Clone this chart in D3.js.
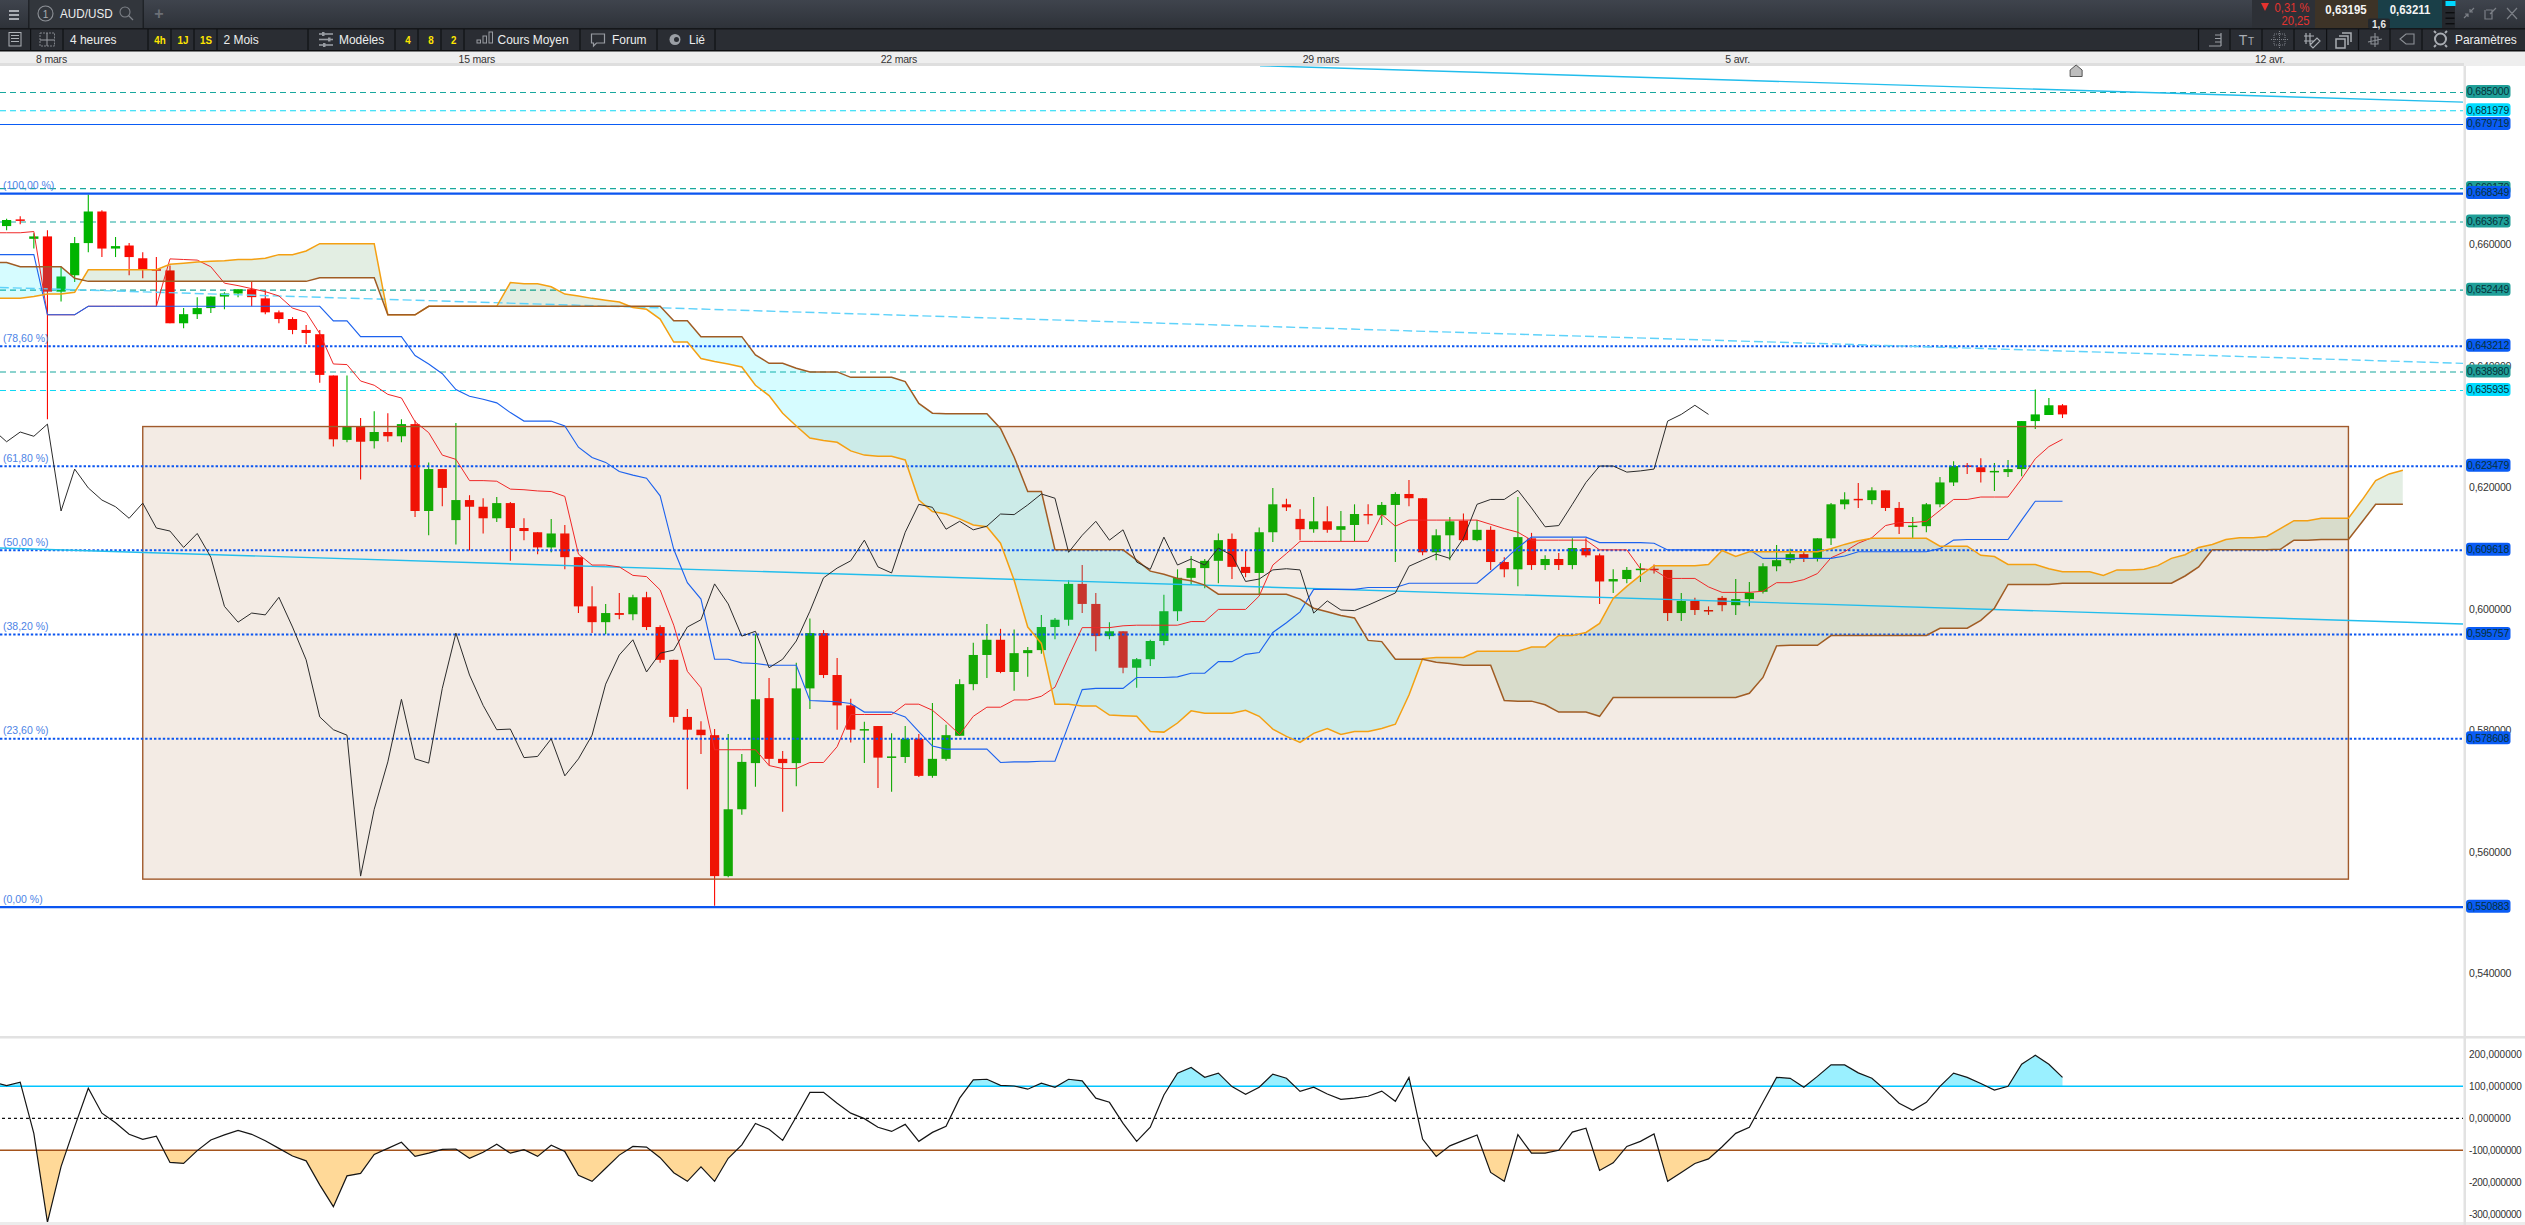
<!DOCTYPE html>
<html>
<head>
<meta charset="utf-8">
<title>AUD/USD</title>
<script src="https://cdn.jsdelivr.net/npm/d3@7"></script>
<style>
html, body { margin: 0; padding: 0; background: #fff; overflow: hidden; }
svg { display: block; }
text { font-family: "Liberation Sans", Arial, sans-serif; }
.tick text { font-family: "Liberation Sans", Arial, sans-serif; }
</style>
</head>
<body>
<svg id="chart" width="2525" height="1225"></svg>
<script>
// prices are in 1/10000 (6640 = 0,6640), one value per 4h candle
var opens = [6630,6641,6609,6613,6522,6549,6602,6654,6593,6598,6577,6559,6557,6470,6485,6495,6514,6519,6526,6511,6488,6477,6459,6452,6384,6278,6300,6276,6291,6284,6304,6161,6230,6146,6179,6168,6149,6174,6133,6126,6101,6124,6085,6004,5978,5993,5991,6019,5970,5916,5822,5801,5792,5560,5670,5746,5853,5753,5746,5869,5960,5891,5841,5801,5807,5756,5756,5786,5725,5753,5791,5876,5924,5949,5896,5927,5932,5970,5982,6041,6008,5955,5963,5903,5917,5947,5996,6051,6067,6079,6115,6069,6059,6126,6172,6148,6131,6144,6130,6138,6156,6154,6171,6189,6182,6093,6121,6145,6113,6130,6077,6065,6116,6072,6082,6072,6100,6088,6045,6049,6065,6066,6064,5993,6013,5998,6018,6006,6016,6028,6070,6080,6090,6083,6116,6172,6181,6179,6195,6166,6136,6136,6172,6208,6236,6233,6226,6225,6230,6309,6319,6335];
var highs = [6642,6646,6618,6623,6563,6612,6682,6656,6612,6602,6587,6579,6565,6495,6513,6514,6521,6526,6538,6524,6491,6480,6467,6459,6384,6384,6314,6325,6322,6312,6310,6241,6230,6306,6187,6182,6184,6176,6149,6126,6148,6138,6085,6037,6008,6026,6023,6028,5973,5916,5835,5815,5802,5794,5761,5958,5886,5766,5911,5984,5965,5919,5852,5814,5807,5795,5807,5794,5845,5809,5884,5944,5975,5967,5966,5937,5990,5985,6047,6072,6026,5978,5963,5919,5949,6023,6065,6087,6082,6124,6124,6095,6134,6199,6181,6164,6184,6169,6161,6172,6172,6176,6192,6212,6182,6131,6151,6157,6146,6136,6085,6184,6125,6088,6092,6116,6116,6091,6065,6069,6075,6073,6064,6026,6018,6004,6021,6049,6044,6075,6105,6099,6094,6116,6174,6192,6207,6200,6195,6176,6151,6174,6217,6243,6240,6248,6240,6245,6309,6361,6347,6337];
var lows = [6623,6633,6593,6312,6506,6538,6587,6579,6579,6549,6544,6498,6470,6462,6477,6487,6493,6513,6498,6485,6470,6452,6436,6372,6267,6274,6213,6264,6275,6274,6151,6121,6169,6106,6096,6124,6143,6079,6113,6090,6093,6065,5993,5960,5958,5983,5981,5965,5911,5813,5703,5761,5511,5558,5661,5707,5742,5666,5708,5835,5886,5801,5780,5746,5705,5699,5746,5723,5722,5750,5791,5866,5886,5894,5865,5888,5926,5950,5972,5993,5930,5950,5894,5870,5906,5940,5980,6039,6034,6042,6049,6052,6024,6110,6161,6113,6125,6125,6111,6111,6139,6138,6077,6169,6088,6080,6080,6111,6111,6064,6052,6037,6064,6064,6064,6065,6085,6008,6026,6042,6044,6058,5980,5980,5990,5990,5996,5990,6004,6025,6062,6075,6077,6078,6105,6164,6166,6172,6161,6123,6116,6126,6167,6202,6222,6208,6194,6217,6218,6296,6319,6314];
var closes = [6640,6640,6613,6522,6547,6602,6654,6593,6597,6579,6559,6558,6470,6485,6495,6514,6519,6526,6513,6488,6477,6459,6454,6385,6279,6300,6275,6291,6284,6304,6161,6230,6199,6179,6168,6149,6174,6133,6128,6101,6124,6085,6004,5978,5993,5990,6019,5970,5916,5822,5801,5792,5560,5670,5748,5851,5753,5746,5869,5960,5891,5841,5801,5802,5755,5757,5786,5725,5753,5792,5876,5924,5949,5896,5927,5932,5970,5982,6041,6008,5955,5963,5903,5917,5947,5996,6051,6067,6079,6113,6069,6059,6126,6172,6167,6131,6144,6130,6136,6156,6155,6171,6189,6182,6093,6121,6144,6113,6130,6077,6065,6118,6072,6082,6072,6100,6088,6045,6049,6064,6066,6064,5993,6013,5998,5997,6006,6016,6026,6070,6080,6090,6083,6116,6172,6180,6180,6195,6166,6135,6137,6172,6208,6235,6235,6225,6227,6230,6309,6320,6335,6320];

// ichimoku lines, first value is the candle just left of the frame (index -1)
var tenkan = [6619,6619,6619,6621,6484,6484,6484,6498,6498,6498,6498,6498,6498,6576,6575,6574,6563,6536,6532,6527,6522,6515,6495,6488,6453,6403,6402,6375,6368,6353,6347,6308,6290,6253,6246,6211,6211,6210,6197,6196,6194,6193,6185,6090,6072,6072,6069,6055,6053,6031,5973,5897,5870,5768,5768,5768,5768,5742,5737,5737,5747,5747,5773,5826,5826,5826,5826,5843,5843,5833,5814,5793,5823,5838,5838,5850,5850,5856,5871,5921,5969,5969,5969,5972,5973,5973,5973,5973,5979,5979,5999,5999,5999,6021,6072,6091,6111,6111,6111,6111,6111,6111,6155,6136,6146,6146,6146,6146,6146,6146,6139,6132,6126,6113,6113,6113,6113,6113,6097,6097,6097,6066,6064,6050,6050,6050,6036,6027,6027,6027,6029,6043,6043,6048,6058,6084,6094,6108,6117,6137,6142,6142,6144,6162,6180,6180,6184,6184,6184,6214,6247,6267,6279];
var kijun = [6583,6583,6583,6583,6484,6484,6484,6498,6498,6498,6498,6498,6498,6498,6498,6498,6498,6498,6498,6498,6498,6498,6498,6498,6498,6474,6474,6448,6448,6448,6448,6417,6403,6387,6361,6350,6345,6339,6323,6309,6309,6309,6301,6266,6249,6241,6226,6220,6215,6186,6098,6043,6016,5917,5917,5911,5910,5907,5907,5907,5849,5848,5847,5844,5830,5830,5830,5822,5798,5774,5769,5769,5769,5769,5747,5748,5748,5749,5749,5809,5867,5869,5869,5869,5887,5887,5887,5888,5894,5894,5913,5913,5925,5928,5961,5977,5995,6032,6032,6032,6032,6035,6035,6035,6042,6042,6042,6042,6042,6042,6061,6080,6101,6118,6118,6118,6118,6118,6109,6109,6109,6109,6108,6097,6097,6097,6097,6097,6097,6097,6083,6083,6083,6083,6083,6083,6087,6094,6094,6094,6094,6094,6094,6099,6113,6114,6114,6114,6114,6146,6177,6177,6177];
var senkouA = [6511,6511,6511,6514,6518,6518,6521,6558,6558,6558,6558,6558,6558,6567,6569,6571,6572,6573,6575,6575,6577,6583,6583,6589,6601,6601,6601,6601,6601,6484,6484,6484,6498,6498,6498,6498,6498,6498,6537,6535,6535,6530,6518,6515,6511,6508,6505,6496,6493,6477,6439,6439,6412,6407,6403,6398,6368,6351,6322,6301,6281,6277,6274,6260,6253,6251,6251,6245,6179,6160,6156,6148,6138,6135,6108,6047,5970,5943,5843,5843,5840,5840,5825,5824,5823,5798,5797,5812,5832,5828,5828,5828,5833,5823,5802,5790,5780,5795,5803,5793,5798,5798,5803,5810,5858,5918,5920,5920,5920,5930,5930,5930,5930,5937,5937,5956,5956,5961,5976,6017,6037,6055,6071,6071,6071,6071,6073,6096,6086,6094,6094,6094,6094,6094,6094,6099,6106,6112,6116,6116,6116,6116,6116,6103,6103,6103,6088,6086,6073,6073,6073,6066,6061,6061,6061,6055,6064,6064,6065,6071,6083,6089,6101,6106,6114,6117,6117,6119,6132,6145,6145,6149,6149,6149,6179,6211,6222,6228];
var senkouB = [6570,6570,6563,6563,6563,6563,6544,6539,6539,6539,6539,6539,6539,6539,6539,6539,6539,6539,6539,6539,6539,6539,6539,6539,6545,6545,6545,6545,6545,6484,6484,6484,6498,6498,6498,6498,6498,6498,6498,6498,6498,6498,6498,6498,6498,6498,6498,6498,6498,6498,6474,6474,6448,6448,6448,6448,6418,6404,6404,6396,6390,6390,6390,6381,6381,6381,6381,6374,6338,6322,6321,6321,6321,6321,6297,6250,6193,6193,6097,6097,6097,6097,6097,6097,6080,6062,6057,6050,6046,6039,6024,6024,6024,6024,6024,6024,6016,6001,5995,5989,5985,5948,5946,5917,5917,5917,5912,5910,5907,5907,5907,5849,5848,5848,5842,5830,5830,5830,5823,5854,5854,5854,5854,5854,5854,5854,5854,5854,5854,5861,5887,5939,5940,5940,5940,5956,5956,5956,5956,5956,5956,5956,5956,5968,5968,5968,5981,6001,6040,6040,6040,6040,6042,6042,6042,6042,6042,6042,6042,6042,6042,6054,6069,6097,6097,6097,6097,6097,6098,6113,6113,6114,6114,6114,6143,6172,6172,6172];
var chikou = [6295,6275,6291,6284,6304,6161,6230,6199,6179,6168,6149,6174,6133,6128,6101,6124,6085,6004,5978,5993,5990,6019,5970,5916,5822,5801,5792,5560,5670,5748,5851,5753,5746,5869,5960,5891,5841,5801,5802,5755,5757,5786,5725,5753,5792,5876,5924,5949,5896,5927,5932,5970,5982,6041,6008,5955,5963,5903,5917,5947,5996,6051,6067,6079,6113,6069,6059,6126,6172,6167,6131,6144,6130,6136,6156,6155,6171,6189,6182,6093,6121,6144,6113,6130,6077,6065,6118,6072,6082,6072,6100,6088,6045,6049,6064,6066,6064,5993,6013,5998,5997,6006,6016,6026,6070,6080,6090,6083,6116,6172,6180,6180,6195,6166,6135,6137,6172,6208,6235,6235,6225,6227,6230,6309,6320,6335,6320];

// CCI pane, first value is index -1 too
var cci = [113,102,113,-47,-325,-151,-26,94,16,-14,-50,-66,-56,-138,-141,-101,-68,-52,-38,-50,-70,-94,-118,-133,-208,-276,-180,-172,-113,-94,-75,-119,-109,-97,-96,-125,-106,-81,-109,-98,-119,-84,-104,-178,-197,-156,-115,-88,-90,-123,-170,-197,-152,-197,-125,-83,-16,-34,-69,5,81,81,47,16,-1,-28,-41,-19,-72,-44,-25,63,120,122,103,101,91,110,97,122,117,63,50,-16,-72,-28,73,141,159,128,141,99,75,97,138,125,84,97,76,59,63,69,85,53,128,-65,-119,-86,-69,-52,-169,-197,-51,-109,-109,-100,-43,-31,-163,-139,-88,-72,-49,-197,-169,-141,-127,-89,-47,-28,50,128,125,97,131,167,167,142,125,88,47,25,50,100,141,128,109,88,100,169,197,169,128];

// horizontal levels
var fibValues = [0.668349,0.643212,0.623479,0.609618,0.595757,0.578608,0.550883];
var fibNames = ["(100,00 %)","(78,60 %)","(61,80 %)","(50,00 %)","(38,20 %)","(23,60 %)","(0,00 %)"];
var tealLevels = [0.685000,0.669170,0.663673,0.652449,0.638980];
var cyanLevels = [0.681979,0.635935];
var blueLevel = 0.679719;

// trend lines as [candle index, price/10000] pairs
var trendTop = [[92.06,6894],[180.5,6834]];
var trendMid = [[-0.5,6100],[180.5,5975]];
var trendLow = [[-0.5,6529],[180.5,6404]];

// brown box drawn on the chart
var boxIndex = [10,172];
var boxPrice = [6300,5555];

var priceTicks = [0.66,0.64,0.62,0.60,0.58,0.56,0.54];
var cciTicks = [200,100,0,-100,-200,-300];
var dateIndex = [3.26,34.5,65.5,96.5,127.1,166.2];
var dateNames = ["8 mars","15 mars","22 mars","29 mars","5 avr.","12 avr."];

var plotW = 2463, plotTop = 66, plotBottom = 1036, cciTop = 1038, cciBottom = 1222;

var svg = d3.select("#chart");
var x = d3.scaleLinear().domain([0, 151]).range([6.6, 2062.5]);
var yPrice = d3.scaleLinear().domain([0.70, 0.50]).range([1.3, 1216.3]);
var yPip = function (v) { return yPrice(v / 10000); };
var yCci = d3.scaleLinear().domain([200, -300]).range([1054.3, 1214.3]);

var defs = svg.append("defs");
defs.append("clipPath").attr("id", "mainClip").append("rect")
    .attr("x", 0).attr("y", plotTop).attr("width", plotW).attr("height", plotBottom - plotTop);
defs.append("clipPath").attr("id", "cciClip").append("rect")
    .attr("x", 0).attr("y", cciTop).attr("width", plotW).attr("height", cciBottom - cciTop);

svg.append("rect").attr("width", 2525).attr("height", 1225).attr("fill", "#fff");

var main = svg.append("g").attr("clip-path", "url(#mainClip)");

// dashed levels go under the candles
function hLine(g, value, color, width, dash) {
    g.append("line")
        .attr("x1", 0).attr("x2", plotW)
        .attr("y1", yPrice(value)).attr("y2", yPrice(value))
        .attr("stroke", color).attr("stroke-width", width)
        .attr("stroke-dasharray", dash || null);
}
tealLevels.forEach(function (v) { hLine(main, v, "#18a89e", 1.1, "6 4"); });
cyanLevels.forEach(function (v) { hLine(main, v, "#0fd8f5", 1.1, "6 4"); });
hLine(main, blueLevel, "#0a5cf5", 1.1);

// candles
closes.forEach(function (c, i) {
    var up = c >= opens[i];
    var color = up ? "#00b400" : "#fb0a02";
    main.append("line")
        .attr("x1", x(i)).attr("x2", x(i))
        .attr("y1", yPip(highs[i])).attr("y2", yPip(lows[i]))
        .attr("stroke", color).attr("stroke-width", 1.1);
    var top = yPip(Math.max(c, opens[i])), bot = yPip(Math.min(c, opens[i]));
    main.append("rect")
        .attr("x", x(i) - 4.6).attr("width", 9.2)
        .attr("y", top).attr("height", Math.max(bot - top, 1.5))
        .attr("fill", color);
});

// box sits above the candles and tints them
main.append("rect")
    .attr("x", x(boxIndex[0])).attr("y", yPip(boxPrice[0]))
    .attr("width", x(boxIndex[1]) - x(boxIndex[0]))
    .attr("height", yPip(boxPrice[1]) - yPip(boxPrice[0]))
    .attr("fill", "rgba(160,90,30,0.12)")
    .attr("stroke", "#a05a2c").attr("stroke-width", 1.4);

// cloud
function xShift(d, k) { return x(k - 1); }
var clipAbove = d3.area().x(xShift).y0(0).y1(function (d) { return yPip(d); });
var clipBelow = d3.area().x(xShift).y0(1225).y1(function (d) { return yPip(d); });
defs.append("clipPath").attr("id", "aboveB").append("path").attr("d", clipAbove(senkouB));
defs.append("clipPath").attr("id", "belowB").append("path").attr("d", clipBelow(senkouB));
var cloud = d3.area().x(xShift)
    .y0(function (d, k) { return yPip(senkouB[k]); })
    .y1(function (d) { return yPip(d); });
main.append("g").attr("clip-path", "url(#aboveB)").append("path")
    .attr("d", cloud(senkouA)).attr("fill", "rgba(0,100,0,0.11)");
main.append("g").attr("clip-path", "url(#belowB)").append("path")
    .attr("d", cloud(senkouA)).attr("fill", "rgba(0,235,255,0.16)");

// fibonacci retracement
fibValues.forEach(function (v, k) {
    var solid = k == 0 || k == fibValues.length - 1;
    hLine(main, v, "#0a55f0", solid ? 2.2 : 2, solid ? null : "2.4 2");
});

// trend lines
function trend(pts, dash) {
    main.append("line")
        .attr("x1", x(pts[0][0])).attr("y1", yPip(pts[0][1]))
        .attr("x2", x(pts[1][0])).attr("y2", yPip(pts[1][1]))
        .attr("stroke", dash ? "#5ed2fa" : "#22bdec")
        .attr("stroke-width", 1.4)
        .attr("stroke-dasharray", dash || null);
}
trend(trendTop);
trend(trendMid);
trend(trendLow, "9 4");

var lineGen = d3.line().x(xShift).y(function (d) { return yPip(d); });
function ichi(data, color, width) {
    main.append("path").attr("d", lineGen(data))
        .attr("fill", "none").attr("stroke", color).attr("stroke-width", width);
}
ichi(tenkan, "#f02828", 1);
ichi(kijun, "#1c62ee", 1.1);
ichi(senkouA, "#f4a012", 1.5);
ichi(senkouB, "#a05c24", 1.5);
ichi(chikou, "#2b2b2b", 1);

// fib labels
var fibLabels = svg.append("g");
fibValues.forEach(function (v, k) {
    fibLabels.append("text")
        .attr("x", 3).attr("y", yPrice(v) - 4.5)
        .attr("font-size", 10.5).attr("fill", "#4d84e6")
        .text(fibNames[k]);
});

// CCI pane
var cciG = svg.append("g").attr("clip-path", "url(#cciClip)");
var cciLine = d3.line().x(xShift).y(function (d) { return yCci(d); });
defs.append("clipPath").attr("id", "cciUp").append("rect")
    .attr("x", 0).attr("y", cciTop).attr("width", plotW).attr("height", yCci(100) - cciTop);
defs.append("clipPath").attr("id", "cciDown").append("rect")
    .attr("x", 0).attr("y", yCci(-100)).attr("width", plotW).attr("height", cciBottom - yCci(-100));
cciG.append("g").attr("clip-path", "url(#cciUp)").append("path")
    .attr("d", d3.area().x(xShift).y0(yCci(100)).y1(function (d) { return yCci(d); })(cci))
    .attr("fill", "#9af0ff");
cciG.append("g").attr("clip-path", "url(#cciDown)").append("path")
    .attr("d", d3.area().x(xShift).y0(yCci(-100)).y1(function (d) { return yCci(d); })(cci))
    .attr("fill", "#ffd998");
cciG.append("line").attr("x1", 0).attr("x2", plotW).attr("y1", yCci(100)).attr("y2", yCci(100))
    .attr("stroke", "#00c4ff").attr("stroke-width", 1.5);
cciG.append("line").attr("x1", 0).attr("x2", plotW).attr("y1", yCci(-100)).attr("y2", yCci(-100))
    .attr("stroke", "#a4531c").attr("stroke-width", 1.5);
cciG.append("line").attr("x1", 2).attr("x2", plotW).attr("y1", yCci(0)).attr("y2", yCci(0))
    .attr("stroke", "#111").attr("stroke-width", 1.2).attr("stroke-dasharray", "3 3");
cciG.append("path").attr("d", cciLine(cci))
    .attr("fill", "none").attr("stroke", "#151515").attr("stroke-width", 1.2);

// pane frames
svg.append("rect").attr("x", 0).attr("y", plotBottom).attr("width", 2525).attr("height", 2.5).attr("fill", "#e2e2e2");
svg.append("rect").attr("x", 0).attr("y", cciBottom).attr("width", 2525).attr("height", 3).attr("fill", "#ececec");
svg.append("rect").attr("x", plotW + 0.5).attr("y", plotTop).attr("width", 2.5).attr("height", 1160).attr("fill", "#e2e2e2");

// right axes
function styleAxis(g) {
    g.select(".domain").remove();
    g.selectAll(".tick line").remove();
    g.selectAll("text").attr("fill", "#333").attr("font-size", 10.5).attr("letter-spacing", -0.2);
}
function commaFormat(v) { return d3.format(".6f")(v).replace(".", ",").replace("\u2212", "-"); }
svg.append("g").attr("transform", "translate(2469,0)")
    .call(d3.axisRight(yPrice).tickValues(priceTicks).tickSize(0).tickPadding(0).tickFormat(commaFormat))
    .call(styleAxis);
svg.append("g").attr("transform", "translate(2469,0)")
    .call(d3.axisRight(yCci).tickValues(cciTicks).tickSize(0).tickPadding(0).tickFormat(commaFormat))
    .call(styleAxis)
    .call(function (g) {
        // the negative labels only just fit before the window edge
        g.selectAll("text").attr("font-size", 10).attr("letter-spacing", function (d) { return d < 0 ? -0.35 : 0; });
    });

// price tags on the axis
function tag(value, color) {
    var yy = yPrice(value) - 1;
    svg.append("rect").attr("x", 2466).attr("y", yy - 6.5).attr("width", 44.5).attr("height", 13)
        .attr("rx", 3).attr("fill", color);
    svg.append("text").attr("x", 2488).attr("y", yy + 3.8).attr("text-anchor", "middle")
        .attr("font-size", 10.5).attr("letter-spacing", -0.2).attr("fill", "#06323a")
        .text(commaFormat(value));
}
tealLevels.forEach(function (v) { tag(v, "#1f9f98"); });
cyanLevels.forEach(function (v) { tag(v, "#00dcff"); });
tag(blueLevel, "#0a5cf5");
fibValues.forEach(function (v) { tag(v, "#0a5cf5"); });

// ---- toolbars ----
svg.append("rect").attr("width", 2525).attr("height", 66).attr("fill", "#eeeeee");
var grad = defs.append("linearGradient").attr("id", "barGrad").attr("x1", 0).attr("x2", 0).attr("y1", 0).attr("y2", 1);
grad.append("stop").attr("offset", 0).attr("stop-color", "#3f444d");
grad.append("stop").attr("offset", 1).attr("stop-color", "#2e3239");
svg.append("rect").attr("width", 2525).attr("height", 28).attr("fill", "url(#barGrad)");
svg.append("rect").attr("y", 28).attr("width", 2525).attr("height", 23).attr("fill", "#2a2d33");
svg.append("rect").attr("y", 28).attr("width", 2525).attr("height", 1.5).attr("fill", "#15171a");
svg.append("rect").attr("y", 50).attr("width", 2525).attr("height", 1.5).attr("fill", "#0d0e10");
svg.append("rect").attr("y", 63).attr("width", 2464).attr("height", 3).attr("fill", "#dedede");

function label(str, px, py, size, color, anchor, weight, squeeze) {
    var t = svg.append("text")
        .attr("transform", "translate(" + px + "," + py + ") scale(" + (squeeze || 0.92) + ",1)")
        .attr("font-size", size).attr("fill", color)
        .attr("text-anchor", anchor || "start")
        .attr("font-weight", weight || "normal")
        .text(str);
    return t;
}
function sep(px, y0, y1) {
    svg.append("line").attr("x1", px).attr("x2", px).attr("y1", y0).attr("y2", y1)
        .attr("stroke", "#0f1114").attr("stroke-width", 1.2);
}
[30.6, 63, 148, 171, 194, 217, 308, 395, 418, 441, 464, 580, 657, 715, 2198.5, 2230, 2262, 2294, 2326.6, 2358.5, 2390, 2422]
    .forEach(function (px) { sep(px, 29, 50); });
[29, 143].forEach(function (px) { sep(px, 0, 28); });

// top row, left side
svg.append("rect").attr("x", 29.5).attr("width", 113).attr("height", 28).attr("fill", "#32363c");
[9, 13, 17].forEach(function (yy) {
    svg.append("rect").attr("x", 9).attr("y", yy + 1).attr("width", 10).attr("height", 2).attr("fill", "#a9adb3");
});
svg.append("circle").attr("cx", 45.5).attr("cy", 13.5).attr("r", 7.5).attr("fill", "none").attr("stroke", "#8d9197").attr("stroke-width", 1.1);
label("1", 45.5, 17.5, 11, "#a9adb3", "middle");
label("AUD/USD", 60, 17.5, 13, "#eceded", "start", "normal", 0.9);
svg.append("circle").attr("cx", 125).attr("cy", 12).attr("r", 5).attr("fill", "none").attr("stroke", "#7d8187").attr("stroke-width", 1.1);
svg.append("line").attr("x1", 128.5).attr("y1", 15.5).attr("x2", 133).attr("y2", 20).attr("stroke", "#7d8187").attr("stroke-width", 1.3);
label("+", 159, 18.5, 16, "#6b6f76", "middle", "bold", 1);

// second row, left side
svg.append("rect").attr("x", 9).attr("y", 32.5).attr("width", 12).attr("height", 13.5).attr("fill", "none").attr("stroke", "#aeb2b7").attr("stroke-width", 1);
[35.5, 38.5, 41.5].forEach(function (yy) {
    svg.append("line").attr("x1", 11).attr("x2", 19).attr("y1", yy).attr("y2", yy).attr("stroke", "#aeb2b7");
});
svg.append("rect").attr("x", 40).attr("y", 33).attr("width", 14.5).attr("height", 13).attr("fill", "none").attr("stroke", "#80848a").attr("stroke-dasharray", "2 1");
svg.append("line").attr("x1", 47).attr("x2", 47).attr("y1", 33).attr("y2", 46).attr("stroke", "#9a9ea4");
svg.append("line").attr("x1", 40).attr("x2", 54).attr("y1", 40).attr("y2", 40).attr("stroke", "#9a9ea4");
label("4 heures", 70, 43.5, 13, "#eceded");
[["4h", 160], ["1J", 183], ["1S", 206], ["4", 408], ["8", 431], ["2", 453.6]].forEach(function (d) {
    label(d[0], d[1], 44, 11.5, "#ffe600", "middle", "bold", 0.85);
});
label("2 Mois", 223.5, 43.5, 13, "#eceded");
[34, 39.5, 45].forEach(function (yy, k) {
    svg.append("line").attr("x1", 319).attr("x2", 333).attr("y1", yy).attr("y2", yy).attr("stroke", "#989ca2").attr("stroke-width", 1.6);
    svg.append("rect").attr("x", [322, 328, 323][k]).attr("y", yy - 2).attr("width", 2.5).attr("height", 4).attr("fill", "#989ca2");
});
label("Modèles", 339, 43.5, 13, "#eceded");
[[477, 40, 46], [483, 36, 46], [489, 32, 46]].forEach(function (d) {
    svg.append("rect").attr("x", d[0]).attr("y", d[1]).attr("width", 3.5).attr("height", d[2] - d[1] - 3).attr("fill", "none").attr("stroke", "#989ca2");
});
label("Cours Moyen", 497.5, 43.5, 13, "#eceded");
svg.append("path").attr("d", "M591.5,34 h13 v9 h-8 l-3,3 v-3 h-2 z").attr("fill", "none").attr("stroke", "#989ca2").attr("stroke-width", 1.2);
label("Forum", 612, 43.5, 13, "#eceded");
svg.append("circle").attr("cx", 675).attr("cy", 39.5).attr("r", 5.5).attr("fill", "#9a9ea4");
svg.append("circle").attr("cx", 676.5).attr("cy", 39.5).attr("r", 2.5).attr("fill", "#2a2d33");
label("Lié", 689, 43.5, 13, "#eceded");

// top row, quote panel
svg.append("rect").attr("x", 2252).attr("width", 63).attr("height", 28).attr("fill", "#2d3036");
svg.append("rect").attr("x", 2315).attr("width", 63).attr("height", 28).attr("fill", "#3d3327");
svg.append("rect").attr("x", 2378).attr("width", 64).attr("height", 28).attr("fill", "#1a3f48");
svg.append("rect").attr("x", 2442).attr("width", 13).attr("height", 28).attr("fill", "#24272c");
svg.append("rect").attr("x", 2445.5).attr("y", 1).attr("width", 10).attr("height", 5).attr("fill", "#00d8ff");
[12, 17.5, 23].forEach(function (yy) {
    svg.append("rect").attr("x", 2445.5).attr("y", yy).attr("width", 9).attr("height", 1.4).attr("fill", "#0c0d0f");
});
svg.append("path").attr("d", "M2261,3 h8 l-4,8 z").attr("fill", "#e5332f");
label("0,31 %", 2309.5, 11.5, 12.5, "#e5332f", "end", "normal", 0.9);
label("20,25", 2309.5, 25, 12.5, "#e5332f", "end", "normal", 0.9);
label("0,63195", 2346, 14, 13, "#f4f4f4", "middle", "bold", 0.88);
label("0,63211", 2410, 14, 13, "#f4f4f4", "middle", "bold", 0.88);
svg.append("rect").attr("x", 2368).attr("y", 18.5).attr("width", 22).attr("height", 10).attr("rx", 2).attr("fill", "#23272c");
label("1,6", 2379, 27.5, 10.5, "#e8e8e8", "middle", "bold", 0.95);

// window buttons
var winIcons = "M2464,18 l4,-4 M2465,14 h3 v3 M2474,8 l-4,4 M2470,9 v3 h3 M2486,10 h6 v9 h-7 v-9 M2490,14 l6,-6 M2507,8 l10,11 M2517,8 l-10,11";
svg.append("path").attr("d", winIcons).attr("fill", "none").attr("stroke", "#7b7f86").attr("stroke-width", 1.2);

// second row, right side icons
svg.append("path").attr("d", "M2209,46 h12 M2215,35 h6 M2215,38.5 h6 M2215,42 h6 M2221,33 v13")
    .attr("fill", "none").attr("stroke", "#9a9ea4").attr("stroke-width", 1.2);
label("T", 2243, 45, 14, "#a9adb3", "middle", "normal", 1);
label("T", 2251, 45, 10, "#a9adb3", "middle", "normal", 1);
svg.append("rect").attr("x", 2274).attr("y", 34).attr("width", 11).attr("height", 11).attr("fill", "none").attr("stroke", "#7b7f86").attr("stroke-dasharray", "1 1");
svg.append("path").attr("d", "M2279.5,31 v17 M2271,39.5 h17").attr("stroke", "#7b7f86").attr("stroke-dasharray", "1 1");
svg.append("path").attr("d", "M2306,33 v11 M2310,33 v11 M2304,36 h10 M2304,41 h10 M2310,45 l7,-7 l3,3 l-7,7 z")
    .attr("fill", "none").attr("stroke", "#a9adb3").attr("stroke-width", 1.2);
svg.append("rect").attr("x", 2336).attr("y", 39).attr("width", 9).attr("height", 9).attr("fill", "none").attr("stroke", "#a9adb3").attr("stroke-width", 1.5);
svg.append("path").attr("d", "M2339,36 h9 v9 M2342,33 h9 v9").attr("fill", "none").attr("stroke", "#a9adb3").attr("stroke-width", 1.5);
svg.append("path").attr("d", "M2368,42 l14,-3 M2375,33 v14 M2371,37 h7 v7 h-7 z").attr("fill", "none").attr("stroke", "#8d9197").attr("stroke-width", 1.1);
svg.append("path").attr("d", "M2414,34 h-8 l-6,5 l6,5 h8 z").attr("fill", "none").attr("stroke", "#8d9197").attr("stroke-width", 1.1);
svg.append("circle").attr("cx", 2440.5).attr("cy", 39).attr("r", 5.5).attr("fill", "none").attr("stroke", "#a9adb3").attr("stroke-width", 2);
svg.append("path").attr("d", "M2436,33 l-2,-2 M2445,33 l2,-2 M2436,45 l-2,2 M2445,45 l2,2").attr("stroke", "#a9adb3").attr("stroke-width", 2);
label("Paramètres", 2455, 43.5, 13, "#eceded");

// date row
var dateAxis = svg.append("g").attr("transform", "translate(0,63)")
    .call(d3.axisTop(x).tickValues(dateIndex).tickSize(0).tickPadding(0).tickFormat(function (d, k) { return dateNames[k]; }));
dateAxis.select(".domain").remove();
dateAxis.selectAll(".tick line").remove();
dateAxis.selectAll("text").attr("fill", "#333").attr("font-size", 10.5).attr("letter-spacing", -0.2);

// small house marker just after the last candle
svg.append("path")
    .attr("d", d3.line()([[x(152) - 6, 76.5], [x(152) - 6, 70], [x(152), 65], [x(152) + 6, 70], [x(152) + 6, 76.5]]) + "Z")
    .attr("fill", "#bdbdbd").attr("stroke", "#555").attr("stroke-width", 1);
</script>
</body>
</html>
